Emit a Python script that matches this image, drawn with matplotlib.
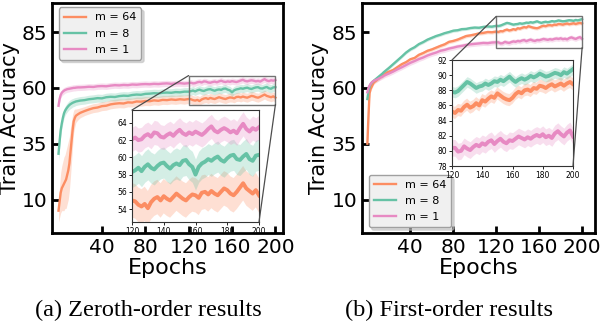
import numpy as np
import matplotlib
matplotlib.use("Agg")
import matplotlib.pyplot as plt
from matplotlib.patches import Rectangle, ConnectionPatch

# ---------------- data ----------------
epochs = [0, 1, 2, 3, 4, 5, 6, 7, 8, 9, 10, 11, 12, 13, 14, 15, 16, 18, 20,
          24, 28, 32, 36, 40, 44, 48, 52, 56, 60, 64, 68, 72, 76, 80, 84, 88, 92, 96,
          100, 104, 108, 112, 116, 120,
          122, 124, 126, 128, 130, 132, 134, 136, 138, 140, 142, 144, 146, 148, 150,
          152, 154, 156, 158, 160, 162, 164, 166, 168, 170, 172, 174, 176, 178, 180,
          182, 184, 186, 188, 190, 192, 194, 196, 198, 200]

labels = ["m = 64", "m = 8", "m = 1"]
colors = ["#fc8d62", "#66c2a5", "#e78ac3"]

# Zeroth-order results
zo_m64 = [5, 9, 13, 15, 16, 17, 18, 19, 21, 23, 26, 31, 36, 41, 45, 46.5, 47.5, 48.2, 48.8,
          49.6, 50.3, 50.9, 51.2, 51.8, 52.0, 52.6, 52.9, 53.1, 53.0, 53.5, 53.4, 53.9, 53.8,
          54.1, 54.0, 54.4, 54.2, 54.6, 54.5, 54.8, 54.6, 54.9, 54.7, 55.0,
          54.9, 54.5, 54.3, 54.6, 54.1, 54.8, 55.2, 55.4, 55.0, 55.5, 55.2, 55.0, 55.4, 55.8,
          55.5, 55.2, 55.0, 55.4, 55.7, 55.6, 55.3, 55.9, 56.0, 55.7, 56.1, 55.8, 55.6, 56.0,
          56.4, 56.2, 55.8, 55.6, 56.0, 56.5, 57.0, 56.4, 56.1, 55.8, 56.2, 55.6]
zo_m8 = [30.5, 36, 41, 44, 46.5, 48.5, 49.7, 50.5, 51.2, 51.8, 52.3, 52.7, 53.0, 53.3, 53.5,
         53.7, 53.9, 54.1, 54.3,
         54.5, 54.9, 55.1, 55.4, 55.3, 55.8, 56.0, 55.9, 56.3, 56.5, 56.4, 56.8, 57.0, 56.9,
         57.3, 57.4, 57.6, 57.5, 57.8, 57.9, 57.8, 58.1, 58.0, 58.3, 58.3,
         58.5, 58.8, 58.4, 58.9, 59.2, 58.8, 58.6, 59.0, 59.3, 59.4, 59.0, 58.7, 59.1, 59.3,
         59.1, 59.6, 59.7, 59.2, 58.9, 58.0, 58.9, 59.3, 59.5, 59.8, 59.6, 59.9, 60.1, 59.7,
         59.5, 59.9, 60.2, 60.3, 59.8, 59.7, 60.1, 60.4, 59.8, 59.6, 60.2, 60.3]
zo_m1 = [52, 55, 56.8, 57.8, 58.3, 58.7, 59.0, 59.2, 59.4, 59.5, 59.6, 59.7, 59.8, 59.9, 60.0,
         60.0, 60.1, 60.2, 60.2,
         60.3, 60.5, 60.4, 60.7, 60.8, 60.7, 61.0, 61.2, 61.1, 61.3, 61.2, 61.5, 61.4, 61.6,
         61.7, 61.6, 61.8, 61.7, 61.9, 62.0, 61.8, 62.0, 62.1, 61.9, 62.1,
         62.3, 62.0, 62.1, 62.5, 62.7, 62.4, 62.9, 62.8, 62.4, 62.3, 62.6, 62.8, 62.5, 62.9,
         63.2, 62.8, 62.6, 62.9, 62.7, 63.0, 62.8, 62.6, 62.9, 63.3, 63.6, 63.1, 62.9, 63.2,
         63.4, 63.2, 62.9, 63.1, 62.8, 63.4, 63.9, 63.3, 63.0, 63.4, 63.2, 63.5]

# spread of runs: early epochs listed, later epochs one value
zo_std_early = [[5, 7, 9, 10, 11, 12, 12, 13, 13, 13, 12, 11, 9, 7, 5, 4, 3, 2.5, 2.2],
                [3, 3, 3, 2.5, 2.5, 2.2, 2, 2, 2, 2, 2, 2, 2, 1.9, 1.9, 1.9, 1.8, 1.8, 1.8],
                [1.8, 1.6, 1.5, 1.5, 1.5, 1.5, 1.4, 1.4, 1.4, 1.4, 1.4, 1.4, 1.4, 1.4, 1.4,
                 1.4, 1.4, 1.4, 1.4]]
zo_std_late = [2.0, 1.8, 1.4]

# First-order results
fo_m64 = [35, 47, 57.5, 59.5, 60.5, 61.5, 62.4, 62.8, 63.2, 63.6, 64.0, 64.3, 64.7, 65.0, 65.3,
          65.7, 66.0, 66.8, 67.2,
          68.0, 69.3, 70.6, 71.5, 72.8, 73.4, 74.8, 75.6, 76.6, 77.2, 78.0, 78.8, 79.5, 80.6,
          81.0, 81.6, 82.4, 83.2, 83.5, 83.9, 84.4, 84.6, 85.0, 84.9, 85.2,
          85.0, 85.4, 85.3, 85.8, 86.1, 85.7, 85.9, 86.3, 86.0, 86.7, 86.5, 86.9, 87.2, 87.0,
          87.6, 87.3, 87.0, 86.8, 86.7, 87.0, 87.5, 87.8, 87.6, 88.0, 88.1, 87.9, 88.3, 88.2,
          88.6, 88.5, 88.3, 88.6, 88.8, 88.5, 88.7, 88.9, 88.6, 88.9, 89.1, 88.8]
fo_m8 = [55, 58.5, 60.5, 61.6, 62.3, 62.8, 63.2, 63.6, 64.0, 64.4, 64.8, 65.2, 65.6, 66.0, 66.4,
         66.9, 67.3, 68.1, 68.9,
         70.6, 72.3, 74.0, 75.8, 77.2, 78.2, 79.6, 80.5, 81.6, 82.4, 83.2, 83.8, 84.5, 85.0,
         85.6, 85.8, 86.3, 86.4, 86.8, 87.0, 86.9, 87.3, 87.5, 87.4, 87.8,
         87.7, 87.9, 88.3, 88.7, 89.1, 88.9, 88.6, 88.3, 88.5, 88.6, 88.9, 88.7, 88.9, 89.2,
         89.1, 89.4, 89.2, 89.5, 89.8, 89.4, 89.1, 89.4, 89.6, 89.4, 89.6, 89.9, 89.7, 89.9,
         90.2, 90.0, 89.8, 89.9, 90.1, 90.3, 90.2, 90.0, 90.4, 90.2, 90.5, 90.8]
fo_m1 = [58, 60, 61, 61.8, 62.4, 62.8, 63.1, 63.4, 63.6, 63.8, 64.0, 64.3, 64.5, 64.8, 65.0,
         65.3, 65.6, 66.0, 66.4,
         67.3, 68.3, 69.2, 70.2, 71.2, 72.0, 72.9, 73.6, 74.5, 75.2, 75.8, 76.6, 77.0, 77.6,
         78.0, 78.5, 78.8, 79.2, 79.5, 79.7, 79.9, 80.1, 80.0, 80.3, 80.4,
         80.4, 79.9, 80.0, 80.6, 80.3, 80.1, 80.5, 80.8, 80.6, 81.0, 80.8, 81.2, 81.4, 80.9,
         81.3, 81.6, 81.2, 81.0, 81.4, 81.3, 81.6, 81.9, 81.7, 81.5, 81.8, 81.6, 81.9, 82.1,
         81.9, 82.2, 81.8, 82.0, 81.7, 82.3, 82.6, 82.2, 81.9, 82.4, 82.7, 81.9]

fo_std_early = [[3, 4, 2, 1.2, 1.0, 1.0, 0.9, 0.9, 0.9, 0.9, 0.9, 0.9, 0.9, 0.9, 0.9, 0.9, 0.9,
                 0.9, 0.9],
                [1.2, 1.0, 0.9, 0.8, 0.8, 0.8, 0.8, 0.8, 0.8, 0.8, 0.8, 0.8, 0.8, 0.8, 0.8,
                 0.8, 0.8, 0.8, 0.8],
                [1.2, 1.1, 1.1, 1.1, 1.1, 1.1, 1.1, 1.1, 1.1, 1.1, 1.1, 1.1, 1.1, 1.1, 1.1,
                 1.1, 1.1, 1.1, 1.1]]
fo_std_late = [0.8, 0.7, 1.1]

yticks_main = [10, 35, 60, 85]
xticks_main = [40, 80, 120, 160, 200]
zo_inset_yticks = [54, 56, 58, 60, 62, 64]
fo_inset_yticks = [78, 80, 82, 84, 86, 88, 90, 92]
inset_xticks = [120, 140, 160, 180, 200]

# ---------------- figure ----------------
W, H = 602, 326
fig = plt.figure(figsize=(W / 100, H / 100), dpi=100)


def px_axes(x0, y0, x1, y1):
    return fig.add_axes([x0 / W, 1 - y1 / H, (x1 - x0) / W, (y1 - y0) / H])


ax1 = px_axes(52, 3, 283, 233)
ax2 = px_axes(362, 3, 595, 233)
ins1 = px_axes(132, 110, 259, 222)
ins2 = px_axes(452, 60, 573, 166)

ep = np.array(epochs)


def band(early, late):
    return np.concatenate([np.array(early, float), np.full(len(ep) - len(early), late)])


def draw(ax, series, stds_e, stds_l, lw):
    for s, se, sl, c, lab in zip(series, stds_e, stds_l, colors, labels):
        y = np.array(s, float)
        sd = band(se, sl)
        ax.fill_between(ep, y - sd, y + sd, color=c, alpha=0.28, lw=0)
        ax.plot(ep, y, color=c, lw=lw, label=lab)


zo_series = [zo_m64, zo_m8, zo_m1]
fo_series = [fo_m64, fo_m8, fo_m1]

for ax, series, se, sl, xl in [(ax1, zo_series, zo_std_early, zo_std_late, (-6, 207)),
                               (ax2, fo_series, fo_std_early, fo_std_late, (-5, 212))]:
    draw(ax, series, se, sl, 1.7)
    ax.set_xlim(*xl)
    ax.set_ylim(-5, 98)
    ax.set_xticks(xticks_main)
    ax.set_yticks(yticks_main)
    ax.tick_params(direction="in", length=5, width=2, labelsize=14.5, pad=3.5)
    for sp in ax.spines.values():
        sp.set_linewidth(2)
    ax.set_xlabel("Epochs", fontsize=16, labelpad=1)
    ax.set_ylabel("Train Accuracy", fontsize=15)
    ax.yaxis.set_label_coords(-0.14, 0.5)

leg_kw = dict(fontsize=8, facecolor="#f0f0f0", edgecolor="#a0a0a0", framealpha=1,
              fancybox=True, shadow={"color": "0.75", "alpha": 0.6}, handlelength=2.0,
              handletextpad=0.8, borderpad=0.45, labelspacing=0.55, borderaxespad=0.3)
ax1.legend(loc="upper left", bbox_to_anchor=(0.015, 0.995), **leg_kw)
ax2.legend(loc="lower left", bbox_to_anchor=(0.015, 0.01), **leg_kw)

for ins, ax, series, se, sl, ylim, yt in [
        (ins1, ax1, zo_series, zo_std_early, zo_std_late, (52.5, 65.5), zo_inset_yticks),
        (ins2, ax2, fo_series, fo_std_early, fo_std_late, (78, 92), fo_inset_yticks)]:
    draw(ins, series, se, sl, 2.8)
    ins.set_xlim(120, 200)
    ins.set_ylim(*ylim)
    ins.set_xticks(inset_xticks)
    ins.set_yticks(yt)
    ins.tick_params(labelsize=5.5, length=2, width=0.6, pad=1.5)
    for sp in ins.spines.values():
        sp.set_linewidth(0.8)
        sp.set_color("0.2")
    x0, x1 = ins.get_xlim()
    y0, y1 = ins.get_ylim()
    ax.add_patch(Rectangle((x0, y0), x1 - x0, y1 - y0, fill=False, ec="0.45", lw=1.0, zorder=5))
    for (xa, ya), (xb, yb) in [((x0, y1), (0, 1)), ((x1, y0), (1, 0))]:
        cp = ConnectionPatch(xyA=(xa, ya), coordsA=ax.transData, xyB=(xb, yb),
                             coordsB=ins.transAxes, color="0.3", lw=0.9)
        fig.add_artist(cp)

fig.text(148 / W, 1 - 310 / H, "(a) Zeroth-order results", ha="center", va="center",
         fontsize=17.5, family="Liberation Serif")
fig.text(449 / W, 1 - 310 / H, "(b) First-order results", ha="center", va="center",
         fontsize=17.5, family="Liberation Serif")

fig.savefig("out.png", dpi=100)
